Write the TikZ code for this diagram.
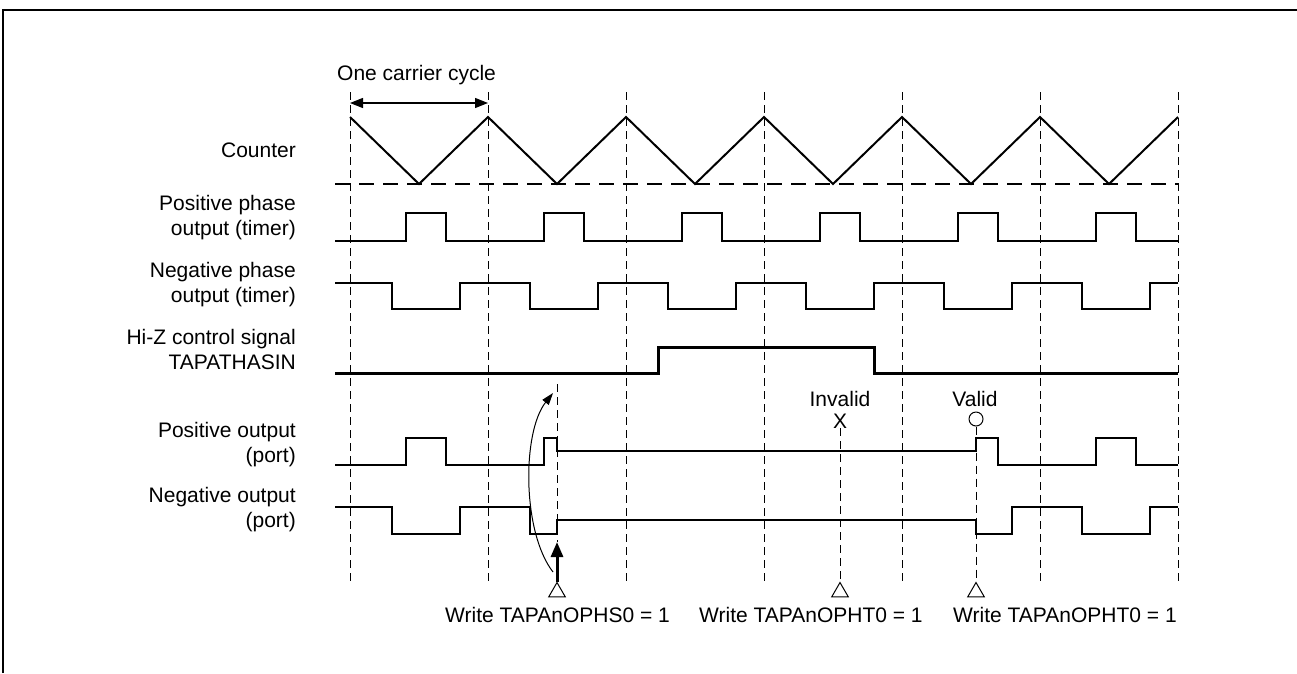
\documentclass[tikz,border=0pt]{standalone}
\usepackage{fontspec}
\setmainfont{Liberation Sans}
\usetikzlibrary{arrows.meta,shapes.geometric}
\begin{document}
\begin{tikzpicture}[x=1pt,y=-1pt,
  font=\fontsize{21}{25}\selectfont,
  sig/.style={line width=2pt, line join=miter},
  hiz/.style={line width=3pt, line join=miter},
  gridln/.style={line width=1pt, dash pattern=on 8pt off 5pt},
  baseln/.style={line width=2pt, dash pattern=on 15pt off 9pt},
  lbl/.style={anchor=east, align=right, inner sep=0pt},
  txt/.style={inner sep=0pt},
  wtri/.style={draw, line width=1pt, regular polygon, regular polygon sides=3, minimum size=19pt, inner sep=0pt},
  carrow/.style={line width=1.2pt, {Triangle[length=13pt,width=10pt]}-{Triangle[length=13pt,width=10pt]}},
  uparrow/.style={line width=3pt, -{Triangle[length=15pt,width=12pt]}},
  curvarrow/.style={line width=1pt, -{Triangle[length=12pt,width=8pt]}}
]
\useasboundingbox (0,0) rectangle (1297,673);
% frame
\draw[line width=2pt] (3,673) -- (3,10) -- (1297,10);

% vertical dashed grid lines
\foreach \k in {0,...,6} {
  \draw[gridln] ({350+138*\k},92) -- ({350+138*\k},584);
}

% carrier cycle
\node[txt, anchor=west] (occ) at (337,75) {One carrier cycle};
\coordinate (ca) at (350,103);
\coordinate (cb) at (488,103);
\draw[carrow] (ca) -- (cb);

% labels
\node[lbl] (lc)  at (296,150)   {Counter};
\node[lbl] (lpp) at (296,217.5) {Positive phase\\output (timer)};
\node[lbl] (lnp) at (296,285)   {Negative phase\\output (timer)};
\node[lbl] (lhz) at (296,349.5) {Hi-Z control signal\\TAPATHASIN};
\node[lbl] (lpo) at (296,445)   {Positive output\\(port)};
\node[lbl] (lno) at (296,510)   {Negative output\\(port)};

% counter
\draw[baseln] (335,184) -- (1178,184);
\draw[sig] (350,117) \foreach \k in {0,...,5} { -- ({419+138*\k},184) -- ({488+138*\k},117) };

% positive phase timer
\draw[sig] (335,241) \foreach \k in {0,...,5} { -- ({406+138*\k},241) -- ({406+138*\k},213) -- ({446+138*\k},213) -- ({446+138*\k},241) } -- (1178,241);

% negative phase timer
\draw[sig] (335,283) \foreach \k in {0,...,5} { -- ({392+138*\k},283) -- ({392+138*\k},309) -- ({460+138*\k},309) -- ({460+138*\k},283) } -- (1178,283);

% Hi-Z control
\draw[hiz] (335,373) -- (658,373) -- (658,347) -- (874,347) -- (874,373) -- (1178,373);

% positive output (port)
\draw[sig] (335,465) -- (406,465) -- (406,438) -- (446,438) -- (446,465) -- (544,465) -- (544,438) -- (557,438) -- (557,451) -- (976,451) -- (976,438) -- (998,438) -- (998,465) -- (1096,465) -- (1096,438) -- (1136,438) -- (1136,465) -- (1178,465);

% negative output (port)
\draw[sig] (335,507) -- (392,507) -- (392,534) -- (460,534) -- (460,507) -- (530,507) -- (530,534) -- (557,534) -- (557,520) -- (976,520) -- (976,534) -- (1012,534) -- (1012,507) -- (1082,507) -- (1082,534) -- (1150,534) -- (1150,507) -- (1178,507);

% write markers
\node[wtri] (w1) at (557,592) {};
\node[wtri] (w2) at (840,592) {};
\node[wtri] (w3) at (976,592) {};

\node[txt, anchor=west] (t1) at (445,615) {Write TAPAnOPHS0 = 1};
\node[txt, anchor=west] (t2) at (699,615) {Write TAPAnOPHT0 = 1};
\node[txt, anchor=west] (t3) at (953,615) {Write TAPAnOPHT0 = 1};

% first write
\coordinate (d1top) at (557,384);
\coordinate (d1bot) at (557,542);
\draw[gridln] (d1top) -- (d1bot);
\draw[uparrow] (w1.north) -- (d1bot);
\coordinate (cs) at (553,572);
\coordinate (ce) at (553,393);
\draw[curvarrow] (cs) .. controls (522,532) and (522,432) .. (ce);

% invalid write
\node[txt] (inv) at (840,399) {Invalid};
\node[txt] (xm) at (840,421) {X};
\draw[gridln] (xm.south) -- (w2.north);

% valid write
\node[txt] (val) at (975,399) {Valid};
\node[draw, circle, line width=1pt, minimum size=14pt, inner sep=0pt] (om) at (976,419) {};
\draw[gridln] (om.south) -- (w3.north);
\end{tikzpicture}
\end{document}
